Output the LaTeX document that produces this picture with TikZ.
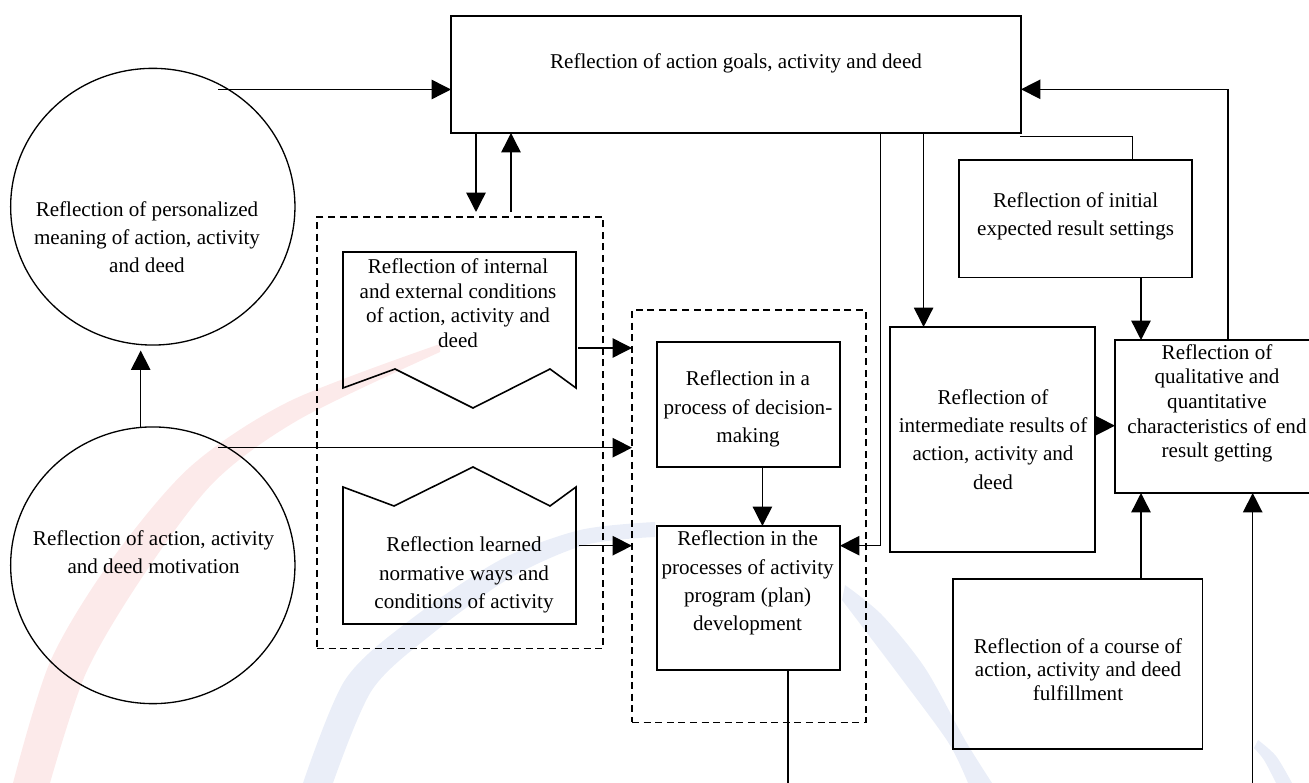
\documentclass[tikz,border=0pt]{standalone}
\usepackage{fontspec}
\setmainfont{Liberation Serif}
\usetikzlibrary{shapes.geometric,arrows.meta,calc}
\definecolor{wmred}{RGB}{252,234,234}
\definecolor{wmblue}{RGB}{234,238,248}
\begin{document}
\begin{tikzpicture}[x=0.02cm,y=-0.02cm,
  bx/.style 2 args={draw,line width=0.9pt,minimum width=#1*0.02cm,minimum height=#2*0.02cm,inner sep=0pt,outer sep=0pt},
  dbx/.style 2 args={draw,line width=0.7pt,dash pattern=on 4pt off 2.6pt,minimum width=#1*0.02cm,minimum height=#2*0.02cm,inner sep=0pt,outer sep=0pt},
  ell/.style={draw,ellipse,line width=0.75pt,minimum width=284.3*0.02cm,minimum height=276.7*0.02cm,inner sep=0pt,outer sep=0pt},
  shp/.style={draw,line width=0.9pt,line join=miter},
  txt/.style={align=center,inner sep=0pt,font=\fontsize{12}{16.1}\selectfont},
  txtb/.style={align=center,inner sep=0pt,font=\fontsize{12}{14}\selectfont},
  txtc/.style={align=center,inner sep=0pt,font=\fontsize{12}{13.5}\selectfont},
  ln/.style={draw,line width=0.8pt},
  arr/.style={draw,line width=0.8pt,-{Triangle[length=11pt,width=11pt]}}]
\useasboundingbox (0,0) rectangle (1309,783);
% watermark
\fill[wmred] plot[smooth] coordinates {(13,783) (50,662) (110,562) (190,467) (290,401) (440,344)}
  -- plot[smooth] coordinates {(440,352) (300,419) (214,482) (143,576) (86,673) (50,783)} -- cycle;
\fill[wmblue] plot[smooth] coordinates {(303,783) (345,680) (410,620) (500,560) (580,530) (655,522)}
  -- plot[smooth] coordinates {(655,537) (585,545) (510,578) (432,634) (372,690) (333,783)} -- cycle;
\fill[wmblue] plot[smooth] coordinates {(845,585) (882,615) (925,668) (965,740) (992,783)}
  -- plot[smooth] coordinates {(968,783) (948,742) (898,674) (842,600)} -- cycle;
\fill[wmblue] plot[smooth] coordinates {(1258,740) (1276,756) (1292,783)}
  -- plot[smooth] coordinates {(1276,783) (1264,760) (1254,748)} -- cycle;
% dashed groups
\node[dbx={286}{431.7}] (G1) at (460,432.8) {};
\node[dbx={234}{412.3}] (G2) at (749,516.2) {};
% top box
\node[bx={570}{117}] (top) at (736,74.5) {};
\node[txt] (ttop) at (736,63) {Reflection of action goals, activity and deed};
% ellipses
\node[ell] (E1) at (152.8,206.7) {};
\node[txt] (tE1) at (147,237) {Reflection of personalized\\meaning of action, activity\\and deed};
\node[ell] (E2) at (152.8,565.3) {};
\node[txt] (tE2) at (153.6,552) {Reflection of action, activity\\and deed motivation};
% document shapes
\draw[shp] (343,252) -- (576,252) -- (576,388) -- (550,369) -- (473,408) -- (395,369) -- (343,388) -- cycle;
\node[txtb] (tD1) at (458,303) {Reflection of internal\\and external conditions\\of action, activity and\\deed};
\draw[shp] (343,487) -- (394,506) -- (473,467) -- (550,506) -- (576,487) -- (576,624) -- (343,624) -- cycle;
\node[txt] (tD2) at (464,575) {Reflection learned\\normative ways and\\conditions of activity};
\coordinate (D1e) at (578,348);
\coordinate (D2e) at (578.7,545.7);
% boxes
\node[bx={183}{125}] (dec) at (748.5,404.5) {};
\node[txt] (tdec) at (748,409) {Reflection in a\\process of decision-\\making};
\node[bx={183}{144}] (plan) at (748.5,598) {};
\node[txt] (tplan) at (747.6,583) {Reflection in the\\processes of activity\\program (plan)\\development};
\node[bx={205}{225}] (inter) at (992.5,439.5) {};
\node[txt] (tinter) at (993,439.5) {Reflection of\\intermediate results of\\action, activity and\\deed};
\node[bx={233}{117.7}] (init) at (1075.5,218.8) {};
\node[txt] (tinit) at (1075.6,216.5) {Reflection of initial\\expected result settings};
\node[bx={204}{153}] (qual) at (1217,416.5) {};
\node[txtb] (tqual) at (1217,403.3) {Reflection of\\qualitative and\\quantitative\\characteristics of end\\result getting};
\node[bx={249.6}{170}] (course) at (1077.8,664) {};
\node[txtc] (tcourse) at (1078,669.5) {Reflection of a course of\\action, activity and deed\\fulfillment};
% connectors
\coordinate (a1) at (218,89.5);
\draw[arr] (a1) -- (a1 -| top.west);
\coordinate (a2) at (218,447.7);
\draw[arr] (a2) -- (a2 -| G2.west);
\coordinate (v1) at (140.7,0);
\draw[arr] (v1 |- E2.north) -- ($(v1 |- E1.south)+(0,5.5)$);
\coordinate (c1) at (476,212);
\draw[arr] (c1 |- top.south) -- (c1);
\coordinate (c2) at (511,212);
\draw[arr] (c2) -- (c2 |- top.south);
\draw[arr] (D1e) -- (D1e -| G2.west);
\draw[arr] (D2e) -- (D2e -| G2.west);
\coordinate (c3) at (762.4,0);
\draw[arr] (c3 |- dec.south) -- (c3 |- plan.north);
\coordinate (c4) at (880.6,545.7);
\draw[arr] (c4 |- top.south) -- (c4) -- (c4 -| plan.east);
\coordinate (c5) at (923.6,0);
\draw[arr] (c5 |- top.south) -- (c5 |- inter.north);
\coordinate (c6) at (1020,136.7);
\coordinate (c7) at (1132.7,136.7);
\draw[ln] (c6) -- (c7) -- (c7 |- init.north);
\coordinate (c8) at (1141,0);
\draw[arr] (c8 |- init.south) -- (c8 |- qual.north);
\coordinate (c9) at (1228,89.3);
\draw[arr] (c9 |- qual.north) -- (c9) -- (c9 -| top.east);
\coordinate (c10) at (0,425.7);
\draw[arr] (c10 -| inter.east) -- (c10 -| qual.west);
\draw[arr] (c8 |- course.north) -- (c8 |- qual.south);
\coordinate (b1) at (1252.7,783);
\draw[arr] (b1) -- (b1 |- qual.south);
\coordinate (b2) at (788,783);
\draw[ln] (b2 |- plan.south) -- (b2);
\end{tikzpicture}
\end{document}
